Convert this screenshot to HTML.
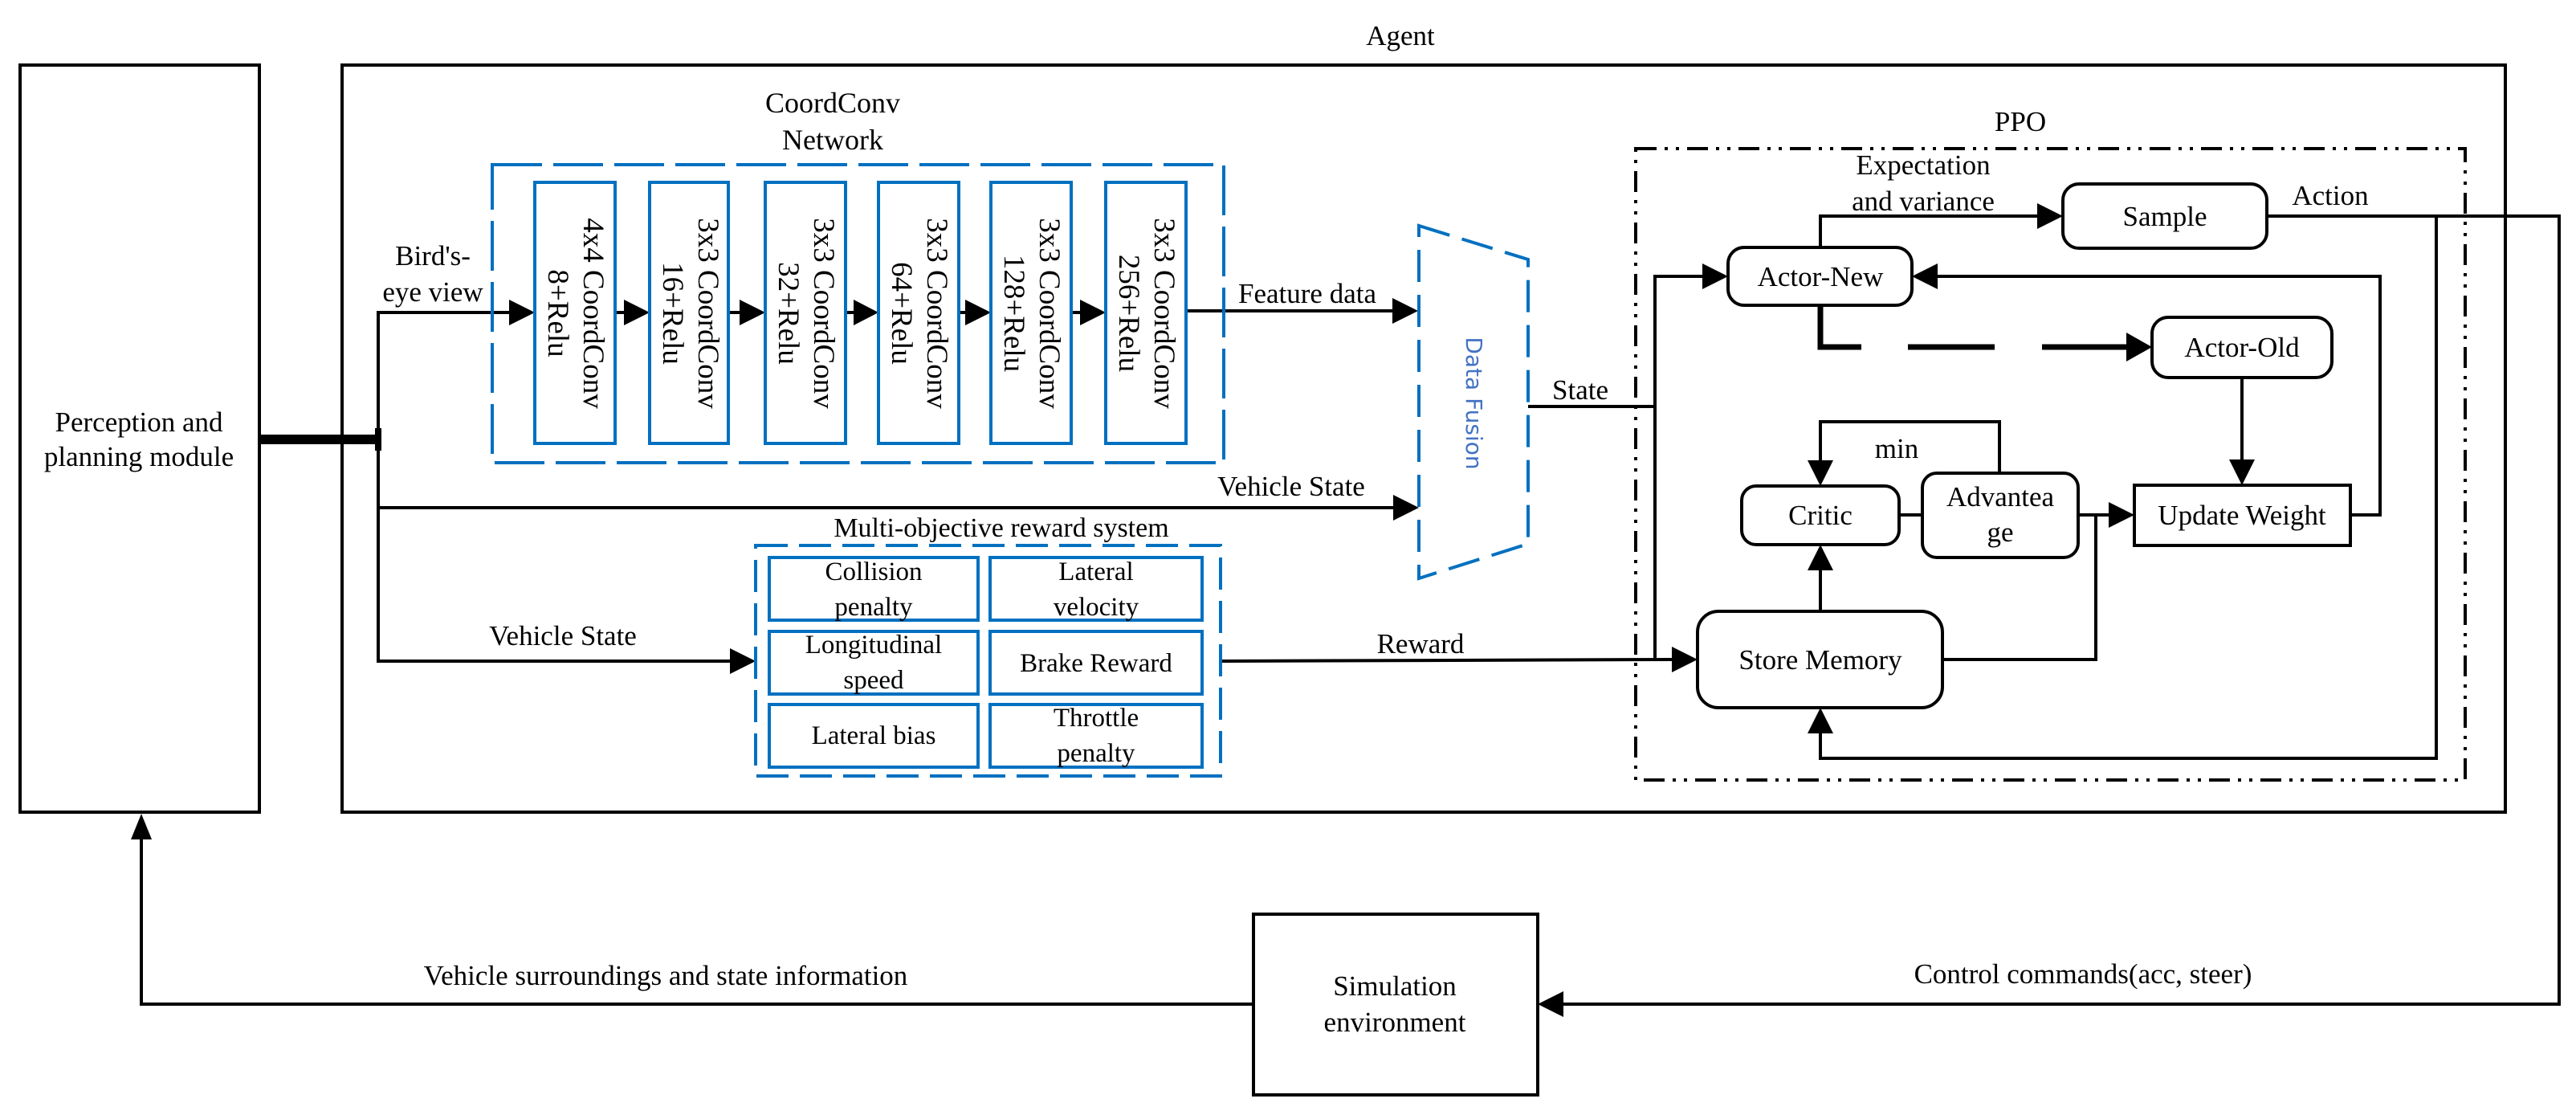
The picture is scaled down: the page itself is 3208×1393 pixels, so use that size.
<!DOCTYPE html>
<html><head><meta charset="utf-8"><style>
html,body{margin:0;padding:0;background:#fff}
svg{display:block}
text{font-family:"Liberation Serif",serif;fill:#000}
</style></head><body>
<svg width="3208" height="1393" viewBox="0 0 3208 1393" xmlns="http://www.w3.org/2000/svg">
<defs>
<marker id="a" markerWidth="10" markerHeight="10" refX="10" refY="5" orient="auto" markerUnits="userSpaceOnUse" viewBox="0 0 10 10">
</marker>
</defs>
<g fill="none" stroke="#000" stroke-width="4">
<!-- perception box -->
<rect x="25" y="81" width="298" height="930"/>
<!-- agent box -->
<rect x="426" y="81" width="2694" height="930"/>
<!-- simulation -->
<rect x="1561" y="1138" width="354" height="225"/>
</g>
<text x="1744" y="56" font-size="35" text-anchor="middle">Agent</text>
<text x="173" y="537" font-size="35" text-anchor="middle">Perception and</text>
<text x="173" y="580" font-size="35" text-anchor="middle">planning module</text>

<!-- perception output thick line -->
<line x1="323" y1="547" x2="471" y2="547" stroke="#000" stroke-width="12"/>
<line x1="471" y1="533" x2="471" y2="561" stroke="#000" stroke-width="8"/>
<g fill="none" stroke="#000" stroke-width="4">
<polyline points="471,547 471,389 634,389"/>
<polyline points="471,547 471,823 909,823"/>
<line x1="471" y1="632" x2="1735" y2="632"/>
<line x1="766" y1="389" x2="777" y2="389"/>
<line x1="907" y1="389" x2="921" y2="389"/>
<line x1="1053" y1="389" x2="1063" y2="389"/>
<line x1="1194" y1="389" x2="1202" y2="389"/>
<line x1="1334" y1="389" x2="1345" y2="389"/>
<line x1="1477" y1="387" x2="1735" y2="387"/>
<line x1="1520" y1="823" x2="2082" y2="821"/>
</g>
<g fill="#000">
<polygon points="634,373 666,389 634,405"/>
<polygon points="777,373 809,389 777,405"/>
<polygon points="921,373 953,389 921,405"/>
<polygon points="1063,373 1094,389 1063,405"/>
<polygon points="1202,373 1234,389 1202,405"/>
<polygon points="1345,373 1377,389 1345,405"/>
<polygon points="1734,371 1766,387 1734,403"/>
<polygon points="1735,616 1767,632 1735,648"/>
<polygon points="909,807 941,823 909,839"/>
<polygon points="2082,805 2114,821 2082,837"/>
</g>
<text x="539" y="330" font-size="35" text-anchor="middle">Bird's-</text>
<text x="539" y="375" font-size="35" text-anchor="middle">eye view</text>
<text x="1542" y="377" font-size="35">Feature data</text>
<text x="1608" y="617" font-size="35" text-anchor="middle">Vehicle State</text>
<text x="701" y="803" font-size="35" text-anchor="middle">Vehicle State</text>
<text x="1769" y="813" font-size="35" text-anchor="middle">Reward</text>

<!-- CoordConv -->
<text x="1037" y="140" font-size="36" text-anchor="middle">CoordConv</text>
<text x="1037" y="186" font-size="36" text-anchor="middle">Network</text>
<rect x="613" y="205" width="911" height="371" fill="none" stroke="#0070c0" stroke-width="4" stroke-dasharray="62 14"/>
<g fill="none" stroke="#0070c0" stroke-width="4">
<rect x="666" y="227" width="100" height="325"/>
<rect x="809" y="227" width="98" height="325"/>
<rect x="953" y="227" width="100" height="325"/>
<rect x="1094" y="227" width="100" height="325"/>
<rect x="1234" y="227" width="100" height="325"/>
<rect x="1377" y="227" width="100" height="325"/>
</g>
<g font-size="37" text-anchor="middle">
<text transform="translate(727,390) rotate(90)">4x4 CoordConv</text>
<text transform="translate(683,390) rotate(90)">8+Relu</text>
<text transform="translate(870,390) rotate(90)">3x3 CoordConv</text>
<text transform="translate(826,390) rotate(90)">16+Relu</text>
<text transform="translate(1014,390) rotate(90)">3x3 CoordConv</text>
<text transform="translate(970,390) rotate(90)">32+Relu</text>
<text transform="translate(1155,390) rotate(90)">3x3 CoordConv</text>
<text transform="translate(1111,390) rotate(90)">64+Relu</text>
<text transform="translate(1295,390) rotate(90)">3x3 CoordConv</text>
<text transform="translate(1251,390) rotate(90)">128+Relu</text>
<text transform="translate(1438,390) rotate(90)">3x3 CoordConv</text>
<text transform="translate(1394,390) rotate(90)">256+Relu</text>
</g>

<!-- Reward system -->
<text x="1247" y="668" font-size="34" text-anchor="middle">Multi-objective reward system</text>
<rect x="941" y="679" width="579" height="287" fill="none" stroke="#0070c0" stroke-width="4" stroke-dasharray="40 14"/>
<g fill="none" stroke="#0070c0" stroke-width="4">
<rect x="958" y="694" width="260" height="78"/>
<rect x="1233" y="694" width="264" height="78"/>
<rect x="958" y="786" width="260" height="78"/>
<rect x="1233" y="786" width="264" height="78"/>
<rect x="958" y="877" width="260" height="78"/>
<rect x="1233" y="877" width="264" height="78"/>
</g>
<g font-size="33" text-anchor="middle">
<text x="1088" y="722">Collision</text>
<text x="1088" y="766">penalty</text>
<text x="1365" y="722">Lateral</text>
<text x="1365" y="766">velocity</text>
<text x="1088" y="813">Longitudinal</text>
<text x="1088" y="857">speed</text>
<text x="1365" y="836">Brake Reward</text>
<text x="1088" y="926">Lateral bias</text>
<text x="1365" y="904">Throttle</text>
<text x="1365" y="948">penalty</text>
</g>

<!-- Data fusion -->
<polygon points="1767,281 1903,323 1903,677 1767,720" fill="none" stroke="#0070c0" stroke-width="4" stroke-dasharray="40 16"/>
<text transform="translate(1826,502) rotate(90)" font-size="28" text-anchor="middle" style="font-family:'DejaVu Sans',sans-serif;fill:#4472c4">Data Fusion</text>
<text x="1968" y="497" font-size="35" text-anchor="middle">State</text>

<!-- PPO -->
<text x="2516" y="163" font-size="35" text-anchor="middle">PPO</text>
<rect x="2037" y="185" width="1033" height="786" fill="none" stroke="#000" stroke-width="4" stroke-dasharray="26 10 4 10 4 10"/>

<g fill="none" stroke="#000" stroke-width="4">
<rect x="2152" y="308" width="229" height="72" rx="20"/>
<rect x="2569" y="229" width="254" height="80" rx="20"/>
<rect x="2680" y="395" width="224" height="75" rx="20"/>
<rect x="2169" y="605" width="196" height="73" rx="18"/>
<rect x="2394" y="589" width="194" height="105" rx="18"/>
<rect x="2658" y="604" width="269" height="75"/>
<rect x="2114" y="761" width="305" height="120" rx="26"/>
<polyline points="1903,506 2061,506"/>
<polyline points="2061,821 2061,344 2120,344"/>
<polyline points="2267,308 2267,269 2537,269"/>
<polyline points="2823,269 3187,269 3187,1250 1947,1250"/>
<polyline points="3034,269 3034,944 2267,944 2267,913"/>
<polyline points="2927,641 2964,641 2964,344 2413,344"/>
<polyline points="2792,470 2792,572"/>
<polyline points="2490,589 2490,525 2267,525 2267,573"/>
<polyline points="2365,641 2394,641"/>
<polyline points="2588,641 2626,641"/>
<polyline points="2419,821 2610,821 2610,641"/>
<polyline points="2267,761 2267,710"/>
<polyline points="1561,1250 176,1250 176,1045"/>
</g>
<g stroke="#000" stroke-width="7" fill="none">
<polyline points="2267,380 2267,432 2318,432"/>
<line x1="2376" y1="432" x2="2484" y2="432"/>
<line x1="2543" y1="432" x2="2650" y2="432"/>
</g>
<g fill="#000">
<polygon points="2120,328 2152,344 2120,360"/>
<polygon points="2537,253 2569,269 2537,285"/>
<polygon points="2413,328 2381,344 2413,360"/>
<polygon points="2648,414 2680,432 2648,450"/>
<polygon points="2776,572 2792,604 2808,572"/>
<polygon points="2251,573 2267,605 2283,573"/>
<polygon points="2251,710 2267,678 2283,710"/>
<polygon points="2626,625 2658,641 2626,657"/>
<polygon points="2251,913 2267,881 2283,913"/>
<polygon points="1947,1234 1915,1250 1947,1266"/>
<polygon points="163,1045 176,1013 189,1045"/>
</g>
<g font-size="35" text-anchor="middle">
<text x="2395" y="217">Expectation</text>
<text x="2395" y="262">and variance</text>
<text x="2902" y="255">Action</text>
<text x="2267" y="356">Actor-New</text>
<text x="2696" y="281">Sample</text>
<text x="2792" y="444">Actor-Old</text>
<text x="2362" y="570">min</text>
<text x="2267" y="653">Critic</text>
<text x="2491" y="630">Advantea</text>
<text x="2491" y="674">ge</text>
<text x="2792" y="653">Update Weight</text>
<text x="2267" y="833">Store Memory</text>
<text x="829" y="1226">Vehicle surroundings and state information</text>
<text x="1737" y="1239">Simulation</text>
<text x="1737" y="1284">environment</text>
<text x="2594" y="1224">Control commands(acc, steer)</text>
</g>
</svg>
</body></html>
